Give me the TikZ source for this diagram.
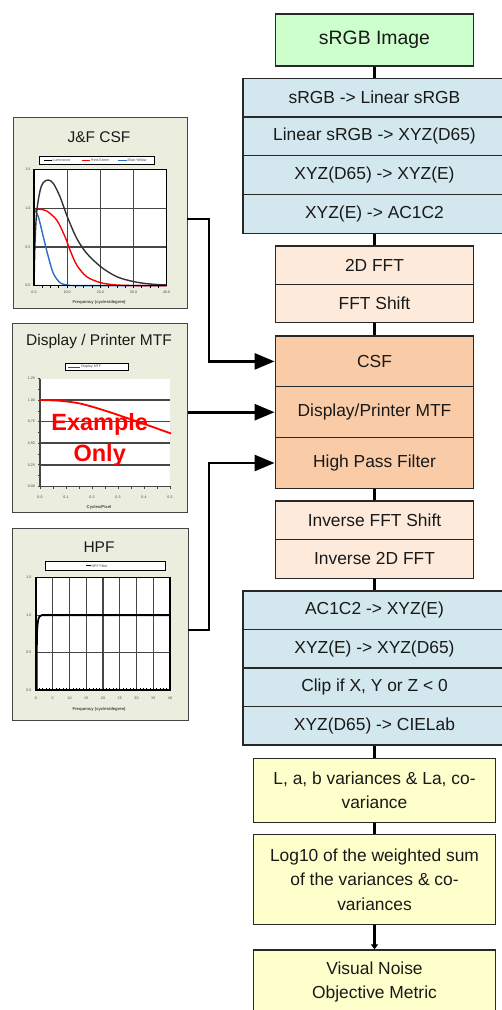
\documentclass[tikz,border=0pt]{standalone}
\usepackage{fontspec}
\setmainfont{Liberation Sans}
\usetikzlibrary{arrows.meta}
\definecolor{boxline}{RGB}{40,40,40}
\definecolor{greenf}{RGB}{204,255,204}
\definecolor{bluef}{RGB}{210,232,238}
\definecolor{peachf}{RGB}{253,234,218}
\definecolor{orangef}{RGB}{249,203,166}
\definecolor{yellowf}{RGB}{255,255,204}
\definecolor{panelf}{RGB}{235,238,222}
\definecolor{gridc}{RGB}{70,70,70}
\definecolor{csfblue}{RGB}{40,110,200}
\definecolor{txt}{RGB}{25,25,25}
\newcommand\flowfont{\fontsize{17.4}{24.5}\selectfont}
\newcommand\titlefont{\fontsize{15.5}{18}\selectfont}
\newcommand\tinyfont{\fontsize{3.6}{4.2}\selectfont}
\newcommand\labfont{\fontsize{4.2}{5}\selectfont\bfseries}
\begin{document}
\begin{tikzpicture}[x=1pt,y=-1pt,
  flowbox/.style={draw=boxline,line width=1.3pt,inner sep=0pt,font=\flowfont,text=txt,align=center},
  bluebox/.style={flowbox,fill=bluef,minimum width=263pt},
  peachbox/.style={flowbox,fill=peachf,minimum width=198.6pt},
  orangebox/.style={flowbox,fill=orangef,minimum width=198.6pt,minimum height=50.8pt},
  yellowbox/.style={flowbox,fill=yellowf,minimum width=242.6pt},
  flowline/.style={line width=3pt,draw=black},
  conn/.style={line width=2.7pt,draw=black,line join=miter,-{Triangle[length=20pt,width=16pt]}},
  panel/.style={draw=gridc,line width=1pt,fill=panelf,inner sep=0pt},
  ptitle/.style={font=\titlefont,text=txt,inner sep=0pt},
  legbox/.style={draw=black,line width=0.9pt,fill=white,inner sep=0pt},
  legtext/.style={font=\tinyfont,text=gridc,inner sep=0.3pt},
  ticktext/.style={font=\tinyfont,text=gridc,inner sep=0.3pt},
  axlabel/.style={font=\labfont,text=gridc,inner sep=0pt},
  gridline/.style={draw=gridc,line width=1.2pt},
  example/.style={font=\fontsize{23.5}{26}\selectfont\bfseries,text=red,inner sep=0pt,anchor=base}
]
\useasboundingbox[fill=white] (0,0) rectangle (501,1010);

% ---------------- flow chart ----------------
\node[flowbox,fill=greenf,minimum width=198.6pt,minimum height=52pt,
      font=\fontsize{19.4}{22}\selectfont] (img) at (374.5,40) {sRGB Image};

\node[bluebox,minimum height=38.75pt] (b1) at (374.5,97.7)   {sRGB -> Linear sRGB};
\node[bluebox,minimum height=38.75pt] (b2) at (374.5,136.45) {Linear sRGB -> XYZ(D65)};
\node[bluebox,minimum height=38.75pt] (b3) at (374.5,175.2)  {XYZ(D65) -> XYZ(E)};
\node[bluebox,minimum height=38.75pt] (b4) at (374.5,213.95) {XYZ(E) -> AC1C2};

\node[peachbox,minimum height=38.35pt] (p1) at (374.5,265.2) {2D FFT};
\node[peachbox,minimum height=38.35pt] (p2) at (374.5,303.5) {FFT Shift};

\node[orangebox] (o1) at (374.5,361.4) {CSF};
\node[orangebox] (o2) at (374.5,412.2) {Display/Printer MTF};
\node[orangebox] (o3) at (374.5,463.0) {High Pass Filter};

\node[peachbox,minimum height=38.65pt] (q1) at (374.5,520.3) {Inverse FFT Shift};
\node[peachbox,minimum height=38.65pt] (q2) at (374.5,559.0) {Inverse 2D FFT};

\node[bluebox,minimum height=38.5pt] (c1) at (374.5,610.25) {AC1C2 -> XYZ(E)};
\node[bluebox,minimum height=38.5pt] (c2) at (374.5,648.75) {XYZ(E) -> XYZ(D65)};
\node[bluebox,minimum height=38.5pt] (c3) at (374.5,687.25) {Clip if X, Y or Z < 0};
\node[bluebox,minimum height=38.5pt] (c4) at (374.5,725.75) {XYZ(D65) -> CIELab};

\node[yellowbox,minimum height=64pt] (y1) at (374.5,790.3) {L, a, b variances \& La, co-\\variance};
\node[yellowbox,minimum height=90pt] (y2) at (374.5,879.3) {Log10 of the weighted sum\\of the variances \& co-\\variances};
\node[yellowbox,minimum height=64pt] (y3) at (374.5,982) {Visual Noise\\Objective Metric};

\draw[flowline] (img.south) -- (b1.north);
\draw[flowline] (b4.south) -- (p1.north);
\draw[flowline] (p2.south) -- (o1.north);
\draw[flowline] (o3.south) -- (q1.north);
\draw[flowline] (q2.south) -- (c1.north);
\draw[flowline] (c4.south) -- (y1.north);
\draw[flowline] (y1.south) -- (y2.north);
\draw[flowline,-{Triangle[length=5pt,width=7pt]}] (y2.south) -- (y3.north);

% ---------------- panel 1 : J&F CSF ----------------
\node[panel,anchor=north west,minimum width=174.5pt,minimum height=191pt] (jf) at (12.5,117) {};
\node[ptitle] (jft) at (99,136.7) {J\&F CSF};
\node[legbox,minimum width=115pt,minimum height=7.6pt] (jfleg) at (96.5,160.5) {};
\draw[black,line width=0.9pt] (43.5,160.5) -- (51.5,160.5);
\node[legtext,anchor=west] (jfl1) at (52.2,160.5) {Luminance};
\draw[red,line width=0.9pt] (81.7,160.5) -- (90,160.5);
\node[legtext,anchor=west] (jfl2) at (90.7,160.5) {Red-Green};
\draw[csfblue,line width=0.9pt] (118.3,160.5) -- (126.7,160.5);
\node[legtext,anchor=west] (jfl3) at (127.2,160.5) {Blue-Yellow};
\fill[white] (34,169.3) rectangle (166.7,285.7);
\foreach \x in {67.2,100.35,133.5} \draw[gridline] (\x,169.3) -- (\x,285.7);
\foreach \y in {208.1,246.9} \draw[gridline] (34,\y) -- (166.7,\y);
\draw[csfblue,line width=1.4pt] plot[smooth] coordinates {(34,209) (38.3,216.7) (43.3,236.7) (48.3,256.7) (53.3,273.3) (60,282.7) (67.3,285) (80,285.6) (166.7,285.6)};
\draw[red,line width=1.4pt] plot[smooth] coordinates {(34,209) (40,209.3) (46.7,211) (56.7,220) (65,236.7) (70,250) (76.7,265) (86.7,276.7) (100.7,282.7) (116.7,285) (140,285.6) (166.7,285.6)};
\draw[black!80,line width=1.4pt] plot[smooth] coordinates {(34,285.7) (35,243.3) (36.7,212) (40,191) (43.3,182.5) (48.3,180) (53.3,183.3) (60,196.7) (67.3,216.7) (76.7,238.3) (86.7,253.3) (100.7,266.7) (116.7,276.7) (134,281.7) (150,284) (166.7,285)};
\draw[black,line width=1.5pt] (34,169.3) rectangle (166.7,285.7);
\foreach \k in {1,...,15} \draw[black,line width=0.8pt] (34+\k*8.29375,285.7) -- (34+\k*8.29375,287.8);
\foreach \v/\y [count=\i] in {1.5/169.3,1.0/208.1,0.5/246.9,0.0/285.7}
  \node[ticktext,anchor=east] (jfy\i) at (31,\y) {\v};
\foreach \v/\x [count=\i] in {0.0/34,10.0/67.2,20.0/100.35,30.0/133.5,40.0/166.7}
  \node[ticktext] (jfx\i) at (\x,292.6) {\v};
\node[axlabel] (jfxl) at (99,302.5) {Frequency (cycles/degree)};

% ---------------- panel 2 : Display / Printer MTF ----------------
\node[panel,anchor=north west,minimum width=175.3pt,minimum height=189pt] (dp) at (11.7,323) {};
\node[ptitle] (dpt) at (99,341.3) {Display / Printer MTF};
\node[legbox,minimum width=63.3pt,minimum height=6.6pt] (dpleg) at (96.7,367) {};
\draw[red,line width=0.9pt] (68,367) -- (80,367);
\node[legtext,anchor=west] (dpl1) at (80.5,367) {Display MTF};
\fill[white] (40,378.7) rectangle (170,486.3);
\foreach \y in {400.2,421.7,443.2,464.8} \draw[gridc,line width=1.5pt] (40,\y) -- (170,\y);
\draw[gridc,line width=1.3pt] (40,378.7) -- (40,486.3) -- (170,486.3);
\foreach \k in {0,...,10} \draw[gridc,line width=0.7pt] (37.5,378.7+\k*10.76) -- (40,378.7+\k*10.76);
\foreach \k in {0,...,10} \draw[gridc,line width=0.7pt] (40+\k*13,486.3) -- (40+\k*13,488.8);
\draw[red,line width=1.8pt] plot[smooth] coordinates {(40,400) (60,400.8) (80,403.5) (103,410) (130,419) (150,426) (171,433.5)};
\foreach \v/\y [count=\i] in {1.25/378.7,1.00/400.2,0.75/421.7,0.50/443.2,0.25/464.8,0.00/486.3}
  \node[ticktext,anchor=east] (dpy\i) at (35.5,\y) {\v};
\foreach \v/\x [count=\i] in {0.0/40,0.1/66,0.2/92,0.3/118,0.4/144,0.5/170}
  \node[ticktext] (dpx\i) at (\x,497.5) {\v};
\node[axlabel] (dpxl) at (99,507.6) {Cycles/Pixel};
\node[example] (ex1) at (99.7,430) {Example};
\node[example] (ex2) at (99.7,461.7) {Only};

% ---------------- panel 3 : HPF ----------------
\node[panel,anchor=north west,minimum width=176.3pt,minimum height=192.5pt] (hp) at (11.7,527.5) {};
\node[ptitle] (hpt) at (99,546.7) {HPF};
\node[legbox,minimum width=120pt,minimum height=8.3pt] (hpleg) at (105,565.85) {};
\draw[black,line width=0.9pt] (86,565.85) -- (90.5,565.85);
\node[legtext,anchor=west] (hpl1) at (91,565.85) {HPF Filter};
\fill[white] (36,577.7) rectangle (170,690);
\foreach \k in {1,...,7} \draw[gridline] (36+\k*16.75,577.7) -- (36+\k*16.75,690);
\foreach \y in {615.1,652.5} \draw[gridline] (36,\y) -- (170,\y);
\draw[black,line width=1.8pt] (36.6,690) -- (36.8,645) .. controls (37.2,620) and (38,615.5) .. (42,615.1) -- (170,615.1);
\draw[black,line width=2.6pt] (36.9,625) -- (36.9,645);
\draw[black,line width=1.5pt] (36,577.7) rectangle (170,690);
\foreach \k in {1,...,39} \draw[black,line width=0.6pt] (36+\k*3.35,690) -- (36+\k*3.35,688);
\foreach \v/\y [count=\i] in {1.5/577.7,1.0/615.1,0.5/652.5,0.0/690}
  \node[ticktext,anchor=east] (hpy\i) at (32,\y) {\v};
\foreach \v [count=\i] in {0,5,10,15,20,25,30,35,40}
  \node[ticktext] (hpx\i) at (36+\i*16.75-16.75,698.3) {\v};
\node[axlabel] (hpxl) at (99,709.3) {Frequency (cycles/degree)};

% ---------------- connectors from panels ----------------
\coordinate (jfout) at (187,219);
\coordinate (hpout) at (188,630);
\draw[conn] (jfout) -- (209,219) |- (o1.west);
\draw[conn] (dp.east |- o2.west) -- (o2.west);
\draw[conn] (hpout) -- (209,630) |- (o3.west);
\end{tikzpicture}
\end{document}
